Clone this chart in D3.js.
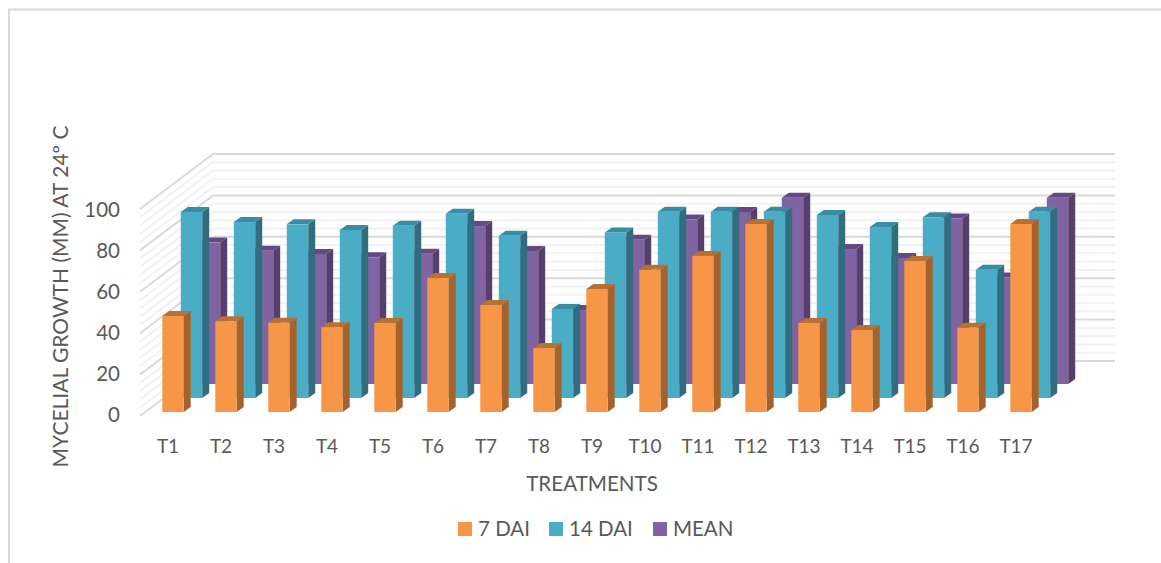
<!DOCTYPE html>
<html><head><meta charset="utf-8">
<script src="https://cdnjs.cloudflare.com/ajax/libs/d3/7.8.5/d3.min.js"></script>
<style>html,body{margin:0;padding:0;background:#fff}svg{display:block}text{font-family:Lato,"Open Sans",sans-serif;fill:#595959}</style>
</head><body><svg id="c" width="1161" height="563"></svg>
<script>
const categories = ["T1","T2","T3","T4","T5","T6","T7","T8","T9","T10","T11","T12","T13","T14","T15","T16","T17"];
const dai7 = [46.4,43.9,43.1,41,43,64.7,51.7,30.9,59.4,68.7,75.4,90.8,43,39.6,73,40.7,90.8];
const dai14 = [89.9,85,83.9,81.2,83.2,89,78.4,43,80,90,90,90,88.4,82.6,87.3,62,90];
const mean = [68.3,64.4,62.8,61.2,62.9,76.3,64.3,35.7,69.7,79.5,83.1,90,65.2,60.9,80,51.4,90];
const seriesNames = ["7 DAI","14 DAI","MEAN"];
const yTicks = [0,20,40,60,80,100];

const svg = d3.select("#c");
const H = 2.07;
const y = d3.scaleLinear().domain([0,100]).range([0,-100*H]);
const x = d3.scalePoint().domain(categories).range([0,848]);
const barW = 21.4, dx = 7, dy = -5;
const series = [
 {vals:mean, off:36.5, base:384, face:"#8064A2", side:"#553F6C", top:"#634A82"},
 {vals:dai14, off:18.5, base:398, face:"#4BACC6", side:"#316D7F", top:"#388CA3"},
 {vals:dai7, off:0, base:412, face:"#F79646", side:"#A5622A", top:"#B87034"}
];
const X0 = 162.3;

// chart frame
svg.append("path").attr("d","M1161,9.5H9V563").attr("fill","none").attr("stroke","#d9d9d9").attr("stroke-width",2);

// walls
const wall = svg.append("g").attr("fill","none").attr("stroke-width",2);
const gridVals = d3.range(0,101,4).concat(yTicks).filter((v,i,a)=>a.indexOf(v)===i).sort((a,b)=>(a%20===0)-(b%20===0)||a-b);
gridVals.forEach(v=>{
  const c = v%20===0 ? "#d9d9d9" : "#f2f2f2";
  const yb = 361+y(v), yf = 416+y(v);
  wall.append("path").attr("d",`M140,${yf}L213,${yb}H1115`).attr("stroke",c);
});

// bars
series.forEach(s=>{
  const g = svg.append("g");
  s.vals.forEach((v,i)=>{
    const l = X0+s.off+x(categories[i]), r = l+barW, b = s.base, t = b+y(v);
    g.append("path").attr("fill",s.side).attr("d",`M${r},${t}l${dx},${dy}V${b+dy}l${-dx},${-dy}Z`);
    g.append("path").attr("fill",s.top).attr("d",`M${l},${t}l${dx},${dy}H${r+dx}l${-dx},${-dy}Z`);
    g.append("rect").attr("fill",s.face).attr("x",l).attr("y",t).attr("width",barW).attr("height",b-t);
  });
});

// axes
const yAxisScale = d3.scaleLinear().domain([0,100]).range([414,209]);
const ya = svg.append("g").attr("transform","translate(120,0)").call(d3.axisLeft(yAxisScale).tickValues(yTicks).tickSize(0).tickPadding(0));
ya.select(".domain").remove();
ya.selectAll("text").style("font-size","20.5px").attr("dy","0.35em");
const xAxisScale = d3.scalePoint().domain(categories).range([167.5,1015.5]);
const xa = svg.append("g").attr("transform","translate(0,439)").call(d3.axisBottom(xAxisScale).tickSize(0).tickPadding(0));
xa.select(".domain").remove();
xa.selectAll("text").style("font-size","19px").attr("dy","0.71em");

svg.append("text").attr("x",592).attr("y",491).attr("text-anchor","middle").style("font-size","20.6px").text("TREATMENTS");
svg.append("text").attr("transform","translate(68,296.5) rotate(-90)").attr("text-anchor","middle").style("font-size","21px").text("MYCELIAL GROWTH (MM) AT 24º C");

// legend
const legend = [[458,"#F79646"],[549,"#4BACC6"],[653,"#8064A2"]];
legend.forEach((d,i)=>{
  svg.append("rect").attr("x",d[0]).attr("y",522).attr("width",14).attr("height",14).attr("fill",d[1]);
  svg.append("text").attr("x",d[0]+20).attr("y",536).style("font-size","20.5px").text(seriesNames[i]);
});
</script></body></html>
